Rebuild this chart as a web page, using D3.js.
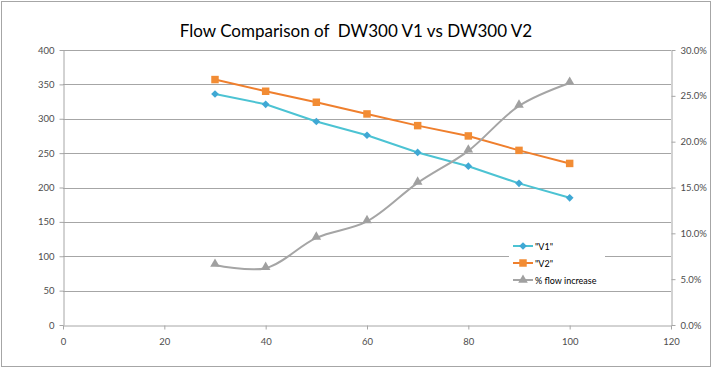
<!DOCTYPE html>
<html><head><meta charset="utf-8">
<script src="https://cdn.jsdelivr.net/npm/d3@7"></script>
<style>html,body{margin:0;padding:0;background:#fff;}svg{display:block;}</style>
</head><body>
<script>
const xValues = [30, 40, 50, 60, 70, 80, 90, 100];
const v1 = [336, 321, 296, 276, 251, 231, 206, 185];
const v2 = [357, 340, 324, 307, 290, 275, 254, 235];
const pctIncrease = [0.0655, 0.062, 0.095, 0.113, 0.155, 0.190, 0.239, 0.264];
const xTicks = [0, 20, 40, 60, 80, 100, 120];
const yTicks = [0, 50, 100, 150, 200, 250, 300, 350, 400];
const y2Ticks = [0, 0.05, 0.10, 0.15, 0.20, 0.25, 0.30];
const seriesNames = ['"V1"', '"V2"', '% flow increase'];
const chartTitle = "Flow Comparison of  DW300 V1 vs DW300 V2";

const W = 712, H = 369;
const svg = d3.select("body").append("svg").attr("width", W).attr("height", H);
const font = "Lato, 'Liberation Sans', sans-serif";

svg.append("rect").attr("x", 1.5).attr("y", 1.5).attr("width", W - 3).attr("height", H - 4)
  .attr("fill", "#fff").attr("stroke", "#a6a6a6").attr("stroke-width", 1);

const pL = 63, pR = 671, pT = 50, pB = 325;
const x = d3.scaleLinear().domain([0, 120]).range([pL, pR]);
const y = d3.scaleLinear().domain([0, 400]).range([pB, pT]);
const y2 = d3.scaleLinear().domain([0, 0.30]).range([pB, pT]);

svg.append("text").attr("x", 356).attr("y", 37).attr("text-anchor", "middle")
  .style("white-space", "pre")
  .attr("font-family", font).attr("font-size", 17).attr("fill", "#000").text(chartTitle);

// gridlines
svg.append("g").selectAll("line").data(yTicks.filter(d => d > 0)).join("line")
  .attr("x1", pL).attr("x2", pR)
  .attr("y1", d => Math.round(y(d)) + 0.5).attr("y2", d => Math.round(y(d)) + 0.5)
  .attr("stroke", "#a6a6a6").attr("stroke-width", 1);

const axisStyle = g => {
  g.selectAll("path").attr("stroke", "#a6a6a6");
  g.selectAll("line").attr("stroke", "#a6a6a6");
  g.selectAll("text").attr("fill", "#4d4d4d").attr("font-family", font).attr("font-size", 9.5);
};

svg.append("g").attr("transform", `translate(${pL + 0.5},0)`)
  .call(d3.axisLeft(y).tickValues(yTicks).tickSize(4).tickSizeOuter(0).tickPadding(5))
  .call(axisStyle);
svg.append("g").attr("transform", `translate(${pR + 0.5},0)`)
  .call(d3.axisRight(y2).tickValues(y2Ticks).tickFormat(d3.format(".1%")).tickSize(4).tickSizeOuter(0).tickPadding(5))
  .call(axisStyle);
svg.append("g").attr("transform", `translate(0,${pB + 0.5})`)
  .call(d3.axisBottom(x).tickValues(xTicks).tickSize(4).tickSizeOuter(0).tickPadding(9))
  .call(axisStyle);

const c1 = "#4cc3d3", c1m = "#3fa8d4", c2 = "#ef7f2d", c2m = "#f28c34", c3 = "#a5a5a5";

const line1 = d3.line().x((d, i) => x(xValues[i])).y(d => y(d));
const line3 = d3.line().x((d, i) => x(xValues[i])).y(d => y2(d)).curve(d3.curveCatmullRom.alpha(0.5));

svg.append("path").datum(v1).attr("d", line1).attr("fill", "none").attr("stroke", c1).attr("stroke-width", 2);
svg.append("path").datum(v2).attr("d", line1).attr("fill", "none").attr("stroke", c2).attr("stroke-width", 2);
svg.append("path").datum(pctIncrease).attr("d", line3).attr("fill", "none").attr("stroke", c3).attr("stroke-width", 2);

const diamond = d3.symbol().type(d3.symbolSquare).size(30);
const square = d3.symbol().type(d3.symbolSquare).size(56);
const tri = d3.symbol().type(d3.symbolTriangle).size(40);

svg.append("g").selectAll("path").data(v1).join("path")
  .attr("transform", (d, i) => `translate(${x(xValues[i])},${y(d)}) rotate(45)`).attr("d", diamond).attr("fill", c1m);
svg.append("g").selectAll("path").data(v2).join("path")
  .attr("transform", (d, i) => `translate(${x(xValues[i])},${y(d)})`).attr("d", square).attr("fill", c2m);
svg.append("g").selectAll("path").data(pctIncrease).join("path")
  .attr("transform", (d, i) => `translate(${x(xValues[i])},${y2(d) - 1})`).attr("d", tri).attr("fill", "#a0a0a0");

// legend
const lg = svg.append("g");
lg.append("rect").attr("x", 509).attr("y", 238).attr("width", 96).attr("height", 50).attr("fill", "#fff");
const cols = [[c1, c1m, diamond, 45], [c2, c2m, square, 0], [c3, "#a0a0a0", tri, 0]];
seriesNames.forEach((name, i) => {
  const yy = 246 + i * 17;
  lg.append("line").attr("x1", 513).attr("x2", 533).attr("y1", yy).attr("y2", yy)
    .attr("stroke", cols[i][0]).attr("stroke-width", 2);
  lg.append("path").attr("transform", `translate(523,${yy}) rotate(${cols[i][3]})`).attr("d", cols[i][2]).attr("fill", cols[i][1]);
  lg.append("text").attr("x", 535).attr("y", yy + 3.5).attr("font-family", font).attr("font-size", 9)
    .attr("fill", "#000").text(name);
});
</script>
</body></html>
